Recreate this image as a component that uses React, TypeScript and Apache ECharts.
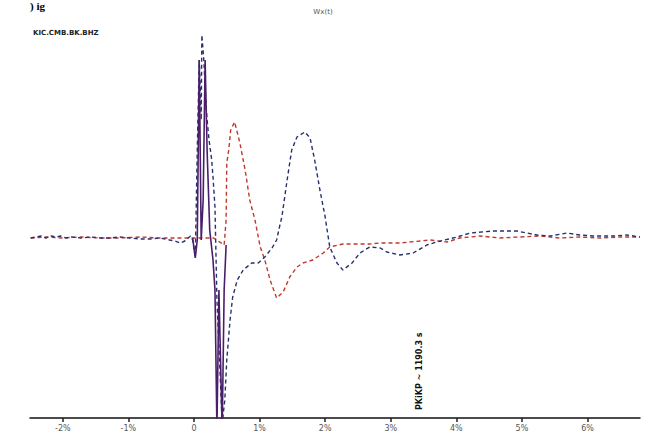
import React, { useEffect, useRef } from "react";
import * as echarts from "echarts";

const tickValues = [-2, -1, 0, 1, 2, 3, 4, 5, 6];
const tickLabels = ["-2%", "-1%", "0", "1%", "2%", "3%", "4%", "5%", "6%"];

const titleText = "Wx(t)";
const stationText = "KIC.CMB.BK.BHZ";
const markerText = "PKiKP ~ 1190.3 s";
const cornerText = ") ig";

// [x, y] pairs
const blueTrace: [number, number][] = [
  [-2.49, 0.0], [-2.41, 0.01], [-2.33, 0.02], [-2.26, 0.0], [-2.18, 0.02], [-2.1, 0.01],
  [-2.03, 0.02], [-1.95, 0.0], [-1.87, 0.01], [-1.72, 0.0], [-1.58, 0.01], [-1.43, 0.0],
  [-1.28, 0.0], [-1.13, 0.01], [-0.98, 0.0], [-0.82, -0.01], [-0.67, -0.01], [-0.52, 0.0],
  [-0.37, -0.02], [-0.29, -0.03], [-0.21, -0.05], [-0.14, -0.03], [-0.09, 0.0],
  [-0.05, 0.02], [-0.02, -0.02], [0.02, -0.2], [0.05, 0.88], [0.08, 1.78], [0.11, 1.18],
  [0.12, 2.03], [0.15, 1.78], [0.18, 1.38], [0.2, 1.18], [0.23, 0.98], [0.27, 0.78],
  [0.29, 0.61], [0.32, 0.31], [0.35, -0.62], [0.43, -1.85], [0.47, -1.62], [0.5, -1.22],
  [0.55, -0.82], [0.59, -0.59], [0.66, -0.42], [0.75, -0.32], [0.88, -0.25], [0.98, -0.25],
  [1.08, -0.19], [1.19, -0.1], [1.26, -0.02], [1.31, 0.13], [1.34, 0.21], [1.42, 0.58],
  [1.49, 0.88], [1.57, 1.01], [1.69, 1.06], [1.77, 1.0], [1.84, 0.78], [1.92, 0.48],
  [2.0, 0.21], [2.03, 0.08], [2.07, -0.09], [2.18, -0.25], [2.27, -0.32], [2.41, -0.25],
  [2.53, -0.15], [2.68, -0.09], [2.84, -0.1], [2.94, -0.14], [3.14, -0.17], [3.34, -0.15],
  [3.55, -0.07], [3.7, -0.04], [4.01, 0.01], [4.21, 0.05], [4.56, 0.07], [4.92, 0.07],
  [5.23, 0.03], [5.43, 0.02], [5.69, 0.05], [5.88, 0.03], [6.08, 0.02], [6.39, 0.02],
  [6.6, 0.03], [6.8, 0.01],
];

const redTrace: [number, number][] = [
  [-2.49, 0.0], [-2.26, 0.01], [-2.03, 0.0], [-1.72, 0.01], [-1.43, 0.0], [-1.13, 0.0],
  [-0.82, 0.01], [-0.52, 0.0], [-0.21, 0.0], [0.02, 0.0], [0.3, 0.0], [0.46, -0.07],
  [0.49, 0.18], [0.5, 0.75], [0.53, 0.88], [0.56, 1.08], [0.62, 1.16], [0.7, 0.95],
  [0.78, 0.68], [0.85, 0.38], [0.93, 0.18], [1.01, -0.09], [1.08, -0.22], [1.16, -0.42],
  [1.26, -0.6], [1.36, -0.54], [1.46, -0.39], [1.57, -0.29], [1.66, -0.25], [1.81, -0.22],
  [1.97, -0.15], [2.07, -0.09], [2.27, -0.06], [2.48, -0.06], [2.68, -0.06], [2.84, -0.05],
  [3.14, -0.05], [3.6, -0.02], [3.86, -0.04], [4.05, 0.0], [4.36, 0.02], [4.66, 0.0],
  [4.97, 0.01], [5.27, 0.02], [5.58, 0.0], [5.88, 0.01], [6.19, 0.0], [6.5, 0.01],
  [6.8, 0.01],
];

const spikeTrace: [number, number][] = [
  [-0.02, 0.0], [0.02, -0.2], [0.05, -0.02], [0.08, 1.78], [0.11, -0.02], [0.14, 0.38],
  [0.17, 1.78], [0.2, 0.88], [0.24, 0.08], [0.29, -0.22], [0.32, -0.52], [0.35, -1.92],
  [0.38, -0.52], [0.43, -1.92], [0.46, -0.52], [0.49, -0.07],
];

export default function App() {
  const ref = useRef<HTMLDivElement>(null);
  useEffect(() => {
    document.body.style.margin = "0";
    const chart = echarts.init(ref.current!, null, { renderer: "svg" });
    chart.setOption({
      animation: false,
      backgroundColor: "#ffffff",
      grid: { left: 30, right: 6, top: 10, bottom: 19, containLabel: false },
      xAxis: {
        type: "value",
        min: -2.5,
        max: 6.8,
        splitLine: { show: false },
        axisLine: { show: true, onZero: false, lineStyle: { color: "#111", width: 1.5 } },
        axisTick: {
          show: true,
          customValues: tickValues,
          length: 4,
          lineStyle: { color: "#222", width: 1.5 },
        },
        axisLabel: {
          customValues: tickValues,
          formatter: (v: number) => {
            const i = tickValues.indexOf(Math.round(v));
            return i >= 0 ? tickLabels[i] : "";
          },
          fontSize: 8,
          color: "#555",
          margin: 6,
          fontFamily: "DejaVu Sans",
        },
      },
      yAxis: {
        type: "value",
        min: -1.8,
        max: 2.28,
        show: false,
        splitLine: { show: false },
      },
      series: [
        {
          type: "line",
          data: redTrace,
          showSymbol: false,
          smooth: false,
          lineStyle: { color: "#c0392f", width: 1.4, type: [4, 3] },
          z: 2,
        },
        {
          type: "line",
          data: blueTrace,
          showSymbol: false,
          smooth: false,
          lineStyle: { color: "#27306f", width: 1.4, type: [4, 3] },
          z: 3,
        },
        {
          type: "line",
          data: spikeTrace,
          showSymbol: false,
          smooth: false,
          lineStyle: { color: "#4a1f6a", width: 1.6 },
          z: 4,
        },
      ],
      graphic: [
        {
          type: "text",
          left: "center",
          top: 8,
          style: { text: titleText, fontSize: 7, fill: "#555", fontFamily: "DejaVu Sans" },
        },
        {
          type: "text",
          x: 33,
          y: 29,
          style: { text: stationText, fontSize: 7, fontWeight: "bold", fill: "#222", fontFamily: "DejaVu Sans" },
        },
        {
          type: "text",
          x: 415,
          y: 410,
          rotation: Math.PI / 2,
          style: { text: markerText, fontSize: 8, fontWeight: "bold", fill: "#111", fontFamily: "DejaVu Sans" },
        },
        {
          type: "text",
          x: 30,
          y: 0,
          style: { text: cornerText, fontSize: 11, fontWeight: "bold", fill: "#000", fontFamily: "Liberation Serif" },
        },
      ],
    });
    return () => chart.dispose();
  }, []);
  return <div ref={ref} style={{ width: 646, height: 437 }} />;
}
